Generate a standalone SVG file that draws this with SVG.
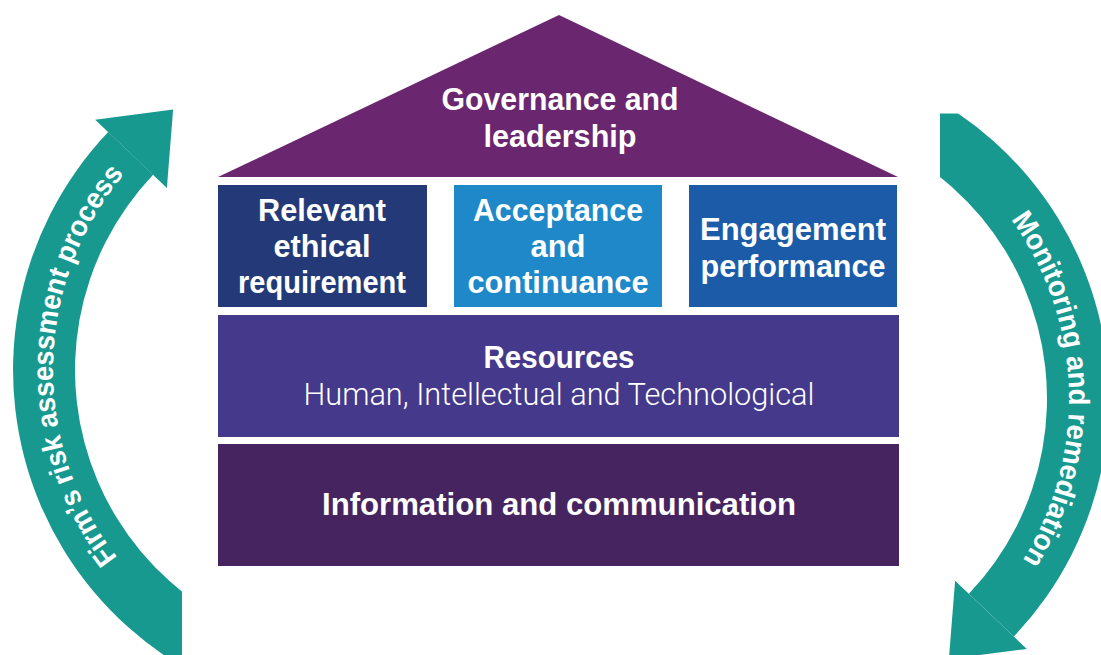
<svg xmlns="http://www.w3.org/2000/svg" width="1101" height="655" viewBox="0 0 1101 655">
  <style>
    .lbl { font-family: "Liberation Sans", Arial, sans-serif; font-weight: bold; font-size: 31px; fill: #ffffff; text-anchor: middle; }
    .sub { font-family: Roboto, "Liberation Sans", Arial, sans-serif; font-weight: 300; font-size: 31px; fill: #ffffff; text-anchor: middle; }
    .arrow { fill: #17998f; }
    .arrow-lbl { font-family: "Liberation Sans", Arial, sans-serif; font-weight: bold; font-size: 29px; fill: #ffffff; text-anchor: middle; }
  </style>
  <defs>
    <!-- curved band, cut square at its open end -->
    <clipPath id="band-cut" clipPathUnits="userSpaceOnUse">
      <rect x="-100" y="-100" width="282" height="755"/>
    </clipPath>
    <g id="arrow-body">
      <path class="arrow" clip-path="url(#band-cut)" d="M108.2,132.1 A345,345 0 0 0 358,715 L358,653 A283,283 0 0 1 153.1,174.8 Z"/>
      <polygon class="arrow" points="95.2,119.7 173.1,109.6 166.9,187.9"/>
    </g>
    <!-- baseline for the lettering along the band -->
    <path id="text-arc" d="M200.9,631.4 A305,305 0 0 1 210.1,103.2" fill="none"/>
  </defs>

  <rect width="1101" height="655" fill="#ffffff"/>

  <g id="roof">
    <polygon points="559,15 898,177 218,177" fill="#6a266f"/>
    <text class="lbl" x="560" y="110" textLength="237" lengthAdjust="spacingAndGlyphs">Governance and</text>
    <text class="lbl" x="560" y="147" textLength="153" lengthAdjust="spacingAndGlyphs">leadership</text>
  </g>

  <g id="box-ethics">
    <rect x="218" y="185" width="209" height="122" fill="#243a78"/>
    <text class="lbl" x="322" y="221" textLength="128" lengthAdjust="spacingAndGlyphs">Relevant</text>
    <text class="lbl" x="322" y="257" textLength="97" lengthAdjust="spacingAndGlyphs">ethical</text>
    <text class="lbl" x="322" y="293" textLength="168" lengthAdjust="spacingAndGlyphs">requirement</text>
  </g>

  <g id="box-acceptance">
    <rect x="454" y="185" width="208" height="122" fill="#1e88c8"/>
    <text class="lbl" x="558" y="221" textLength="170" lengthAdjust="spacingAndGlyphs">Acceptance</text>
    <text class="lbl" x="558" y="257" textLength="55" lengthAdjust="spacingAndGlyphs">and</text>
    <text class="lbl" x="558" y="293" textLength="181" lengthAdjust="spacingAndGlyphs">continuance</text>
  </g>

  <g id="box-engagement">
    <rect x="689" y="185" width="208" height="122" fill="#1b5ba8"/>
    <text class="lbl" x="793" y="240" textLength="186" lengthAdjust="spacingAndGlyphs">Engagement</text>
    <text class="lbl" x="793" y="277" textLength="185" lengthAdjust="spacingAndGlyphs">performance</text>
  </g>

  <g id="band-resources">
    <rect x="218" y="315" width="681" height="122" fill="#45398b"/>
    <text class="lbl" x="559" y="368" textLength="151" lengthAdjust="spacingAndGlyphs">Resources</text>
    <text class="sub" x="559" y="405" textLength="511" lengthAdjust="spacingAndGlyphs">Human, Intellectual and Technological</text>
  </g>

  <g id="band-info">
    <rect x="218" y="444" width="681" height="122" fill="#45245f"/>
    <text class="lbl" x="559" y="515" textLength="474" lengthAdjust="spacingAndGlyphs">Information and communication</text>
  </g>

  <g id="cycle-arrows">
    <g id="arrow-risk">
      <use href="#arrow-body"/>
      <text class="arrow-lbl"><textPath href="#text-arc" startOffset="50%" textLength="415" lengthAdjust="spacingAndGlyphs">Firm’s risk assessment process</textPath></text>
    </g>
    <g id="arrow-monitoring" transform="rotate(180 561 384.3)">
      <use href="#arrow-body"/>
      <text class="arrow-lbl"><textPath href="#text-arc" startOffset="47.5%" textLength="362" lengthAdjust="spacingAndGlyphs">Monitoring and remediation</textPath></text>
    </g>
  </g>
</svg>
